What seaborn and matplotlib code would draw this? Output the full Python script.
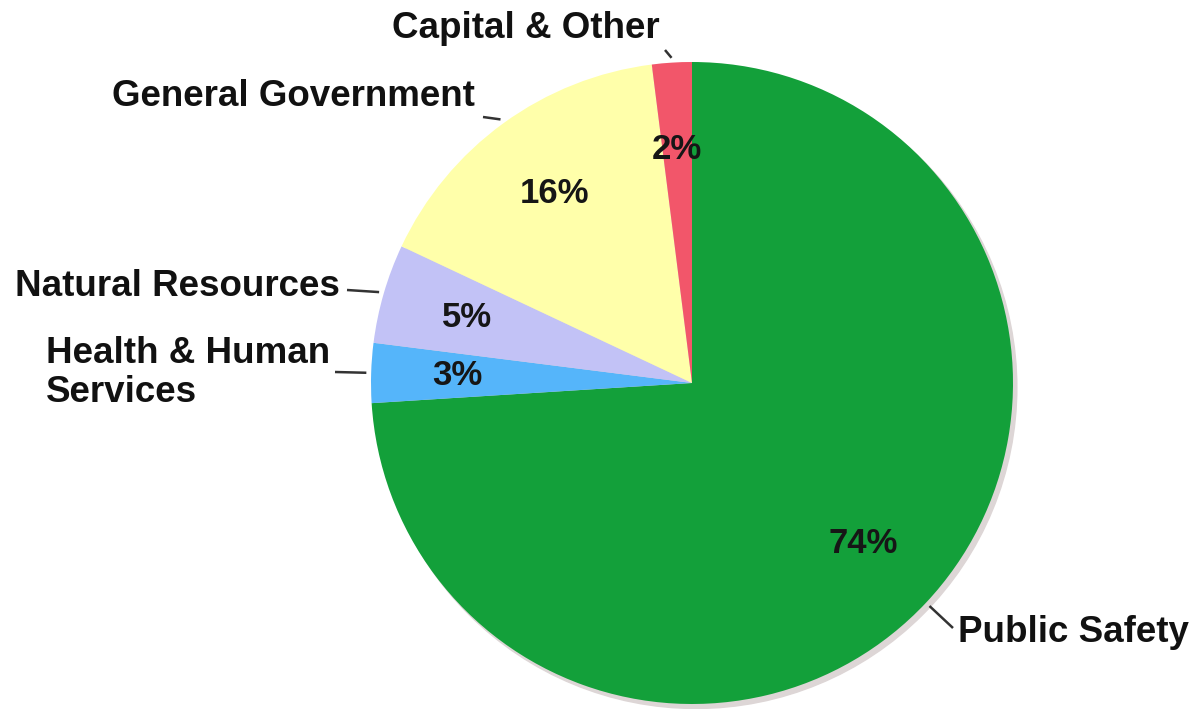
import numpy as np
import matplotlib
matplotlib.use("Agg")
import matplotlib.pyplot as plt
import seaborn as sns

sns.set_theme(style="white")
plt.rcParams["font.family"] = ["Liberation Sans", "DejaVu Sans"]

# data
categories = ["Public Safety", "Health & Human\nServices", "Natural Resources",
              "General Government", "Capital & Other"]
shares = [74, 3, 5, 16, 2]
colors = ["#13A03A", "#55B5FA", "#C2C2F6", "#FFFFAA", "#F2566A"]

W, H = 1197, 709
CX, CY, R = 692, 383, 321


def px(x, y):
    # pixel position -> data units (pie radius = 1)
    return (x - CX) / R, (CY - y) / R


fig = plt.figure(figsize=(W / 100, H / 100), dpi=100)
ax = fig.add_axes([0, 0, 1, 1])

# soft shadow behind the pie
ax.add_patch(plt.Circle((0.012, -0.014), 1.0, color="#ddd6d6", zorder=0))

wedges, texts, autotexts = ax.pie(
    shares, colors=colors, startangle=90, counterclock=False,
    autopct="%d%%", pctdistance=0.73, radius=1.0,
    wedgeprops=dict(linewidth=0, zorder=1),
    textprops=dict(fontsize=25, fontweight="bold", color="#161616"),
)

# (leader end, text anchor, ha) in pixels
label_style = [
    ((953, 628), (958, 632), "left"),
    ((335, 372), (330, 373), "right"),
    ((347, 290), (340, 287), "right"),
    ((483, 117), (475, 97), "right"),
    ((665, 50), (660, 28), "right"),
]

for w, name, (end, anchor, ha) in zip(wedges, categories, label_style):
    ang = np.deg2rad((w.theta1 + w.theta2) / 2)
    x0, y0 = 1.015 * np.cos(ang), 1.015 * np.sin(ang)
    x1, y1 = px(*end)
    ax.plot([x0, x1], [y0, y1], color="#333333", lw=1.8, zorder=2,
            solid_capstyle="butt")
    tx, ty = px(*anchor)
    ax.text(tx, ty, name, ha=ha, va="center",
            fontsize=26.5, fontweight="bold", color="#111111",
            multialignment="left", linespacing=1.15)

ax.set_xlim(-CX / R, (W - CX) / R)
ax.set_ylim(-(H - CY) / R, CY / R)
ax.set_aspect("auto")
ax.axis("off")

fig.savefig("out.png", dpi=100, facecolor="white")
